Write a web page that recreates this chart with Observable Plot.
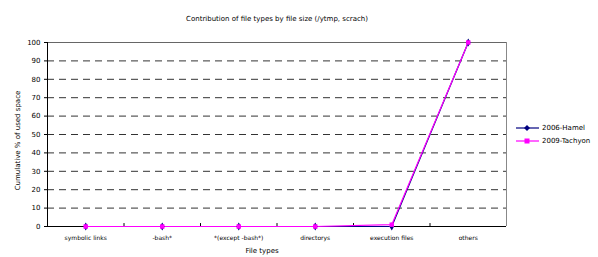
<!DOCTYPE html>
<html><head><meta charset="utf-8">
<script src="https://cdn.jsdelivr.net/npm/d3@7"></script>
<script src="https://cdn.jsdelivr.net/npm/@observablehq/plot@0.6"></script>
<style>
body{margin:0;background:#fff;font-family:"DejaVu Sans",sans-serif;}
#wrap{position:relative;width:598px;height:257px;}
.leg{position:absolute;left:516px;font-size:7px;color:#000;display:flex;align-items:center;}
.leg svg{margin-right:3px;}
</style></head>
<body><div id="wrap"></div>
<script>
const categories = ["symbolic links","-bash*","*(except -bash*)","directorys","execution files","others"];
const hamel = [0,0,0,0,0,100];
const tachyon = [0,0,0,0,1,100];
const yTicks = [0,10,20,30,40,50,60,70,80,90,100];
const seriesNames = ["2006-Hamel","2009-Tachyon"];
const colors = ["#000080","#ff00ff"];

const data = [];
categories.forEach((c,i)=>{
  data.push({i, s:seriesNames[0], v:hamel[i]});
  data.push({i, s:seriesNames[1], v:tachyon[i]});
});
const idx = categories.map((c,i)=>i);
const bounds = idx.slice(0,-1).map(i=>i+0.5);

const chart = Plot.plot({
  width:598, height:257,
  marginLeft:47, marginRight:92, marginTop:42, marginBottom:31,
  style:{fontFamily:"DejaVu Sans, sans-serif", fontSize:"7px", background:"#fff", color:"#000"},
  x:{type:"linear", domain:[-0.5,5.5], axis:null},
  y:{domain:[0,100], axis:null},
  color:{domain:seriesNames, range:colors},
  marks:[
    Plot.ruleY(yTicks.filter(t=>t>0 && t<100), {stroke:"#333", strokeDasharray:"7,5", strokeWidth:1}),
    Plot.ruleY([100], {stroke:"#666"}),
    Plot.ruleX([5.5], {stroke:"#888"}),
    Plot.ruleY([0], {stroke:"#000"}),
    Plot.ruleX([-0.5], {stroke:"#000"}),
    Plot.ruleX(bounds, {x:d=>d, y1:0, y2:1.6, stroke:"#000"}),
    Plot.axisY({ticks:yTicks, tickSize:3, tickPadding:4, label:null, fontSize:7}),
    Plot.axisX({ticks:idx, tickFormat:i=>categories[i], tickSize:0, tickPadding:9, label:null, fontSize:6}),
    Plot.line(data, {x:"i", y:"v", stroke:"s", strokeWidth:1.2}),
    Plot.dot(data.filter(d=>d.s===seriesNames[0]), {x:"i", y:"v", fill:colors[0], symbol:"diamond", r:2.5}),
    Plot.dot(data.filter(d=>d.s===seriesNames[1]), {x:"i", y:"v", fill:colors[1], symbol:"square", r:2.5}),
    Plot.text(["Contribution of file types by file size (/ytmp, scrach)"], {frameAnchor:"top", dy:-26, fontSize:7}),
    Plot.text(["File types"], {frameAnchor:"bottom", dy:26, dx:-15, fontSize:7}),
    Plot.text(["Cumulative % of used space"], {frameAnchor:"left", dx:-30, dy:6, rotate:-90, textAnchor:"middle", fontSize:7})
  ]
});
const wrap = document.getElementById("wrap");
wrap.appendChild(chart);
seriesNames.forEach((n,k)=>{
  const div = document.createElement("div");
  div.className="leg";
  div.style.top = (124 + k*13) + "px";
  const sym = k===0
    ? `<polygon points="11,1 14,4 11,7 8,4" fill="${colors[0]}"/>`
    : `<rect x="8.5" y="1.5" width="5" height="5" fill="${colors[1]}"/>`;
  div.innerHTML = `<svg width="23" height="8"><line x1="0" x2="23" y1="4" y2="4" stroke="${colors[k]}" stroke-width="1.2"/>${sym}</svg><span>${n}</span>`;
  wrap.appendChild(div);
});
</script></body></html>
